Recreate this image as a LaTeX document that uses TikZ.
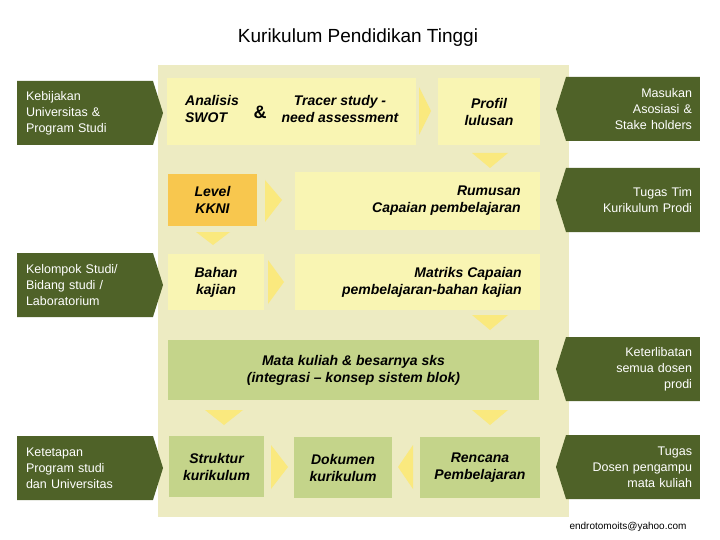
\documentclass[tikz,border=0pt]{standalone}
\usepackage{fontspec}
\setmainfont{Liberation Sans}
\usetikzlibrary{shapes.symbols}
\definecolor{olive}{HTML}{4F6228}
\definecolor{panel}{HTML}{EDEBC2}
\definecolor{pale}{HTML}{F9F5B3}
\definecolor{leaf}{HTML}{C4D48A}
\definecolor{amber}{HTML}{F8C74E}
\definecolor{tri}{HTML}{FAE97E}
\tikzset{
  sign/.style={signal, fill=olive, text=white, font=\fontsize{12.5}{16}\selectfont,
    minimum height=64pt, inner sep=2pt, signal pointer angle=145},
  lsign/.style={sign, signal to=east, minimum width=146pt, text width=118pt, align=left},
  rsign/.style={sign, signal to=west, minimum width=144pt, text width=118pt, align=right},
  box/.style={fill=pale, font=\bfseries\itshape\fontsize{14}{17}\selectfont, align=center, inner sep=0pt}
}
\newcommand{\boxat}[6]{\node[box, fill=#6, minimum width=#3-#1, minimum height=#4-#2] (#5) at ({(#1+#3)/2},{(#2+#4)/2})}
\begin{document}
\begin{tikzpicture}[x=1pt, y=-1pt]
\useasboundingbox (0,0) rectangle (720,540);
\node[font=\fontsize{19}{22}\selectfont] (title) at (358,38) {Kurikulum Pendidikan Tinggi};
\fill[panel] (158,65) rectangle (569,517);
% left signs
\node[lsign] (kebijakan) at (85,113) {Kebijakan\\Universitas \&\\Program Studi\\[8pt]};
\node[lsign] (kelompok) at (85,285) {Kelompok Studi/\\Bidang studi /\\Laboratorium\\[8pt]};
\node[lsign] (ketetapan) at (85,468) {Ketetapan\\Program studi\\dan Universitas};
% right signs
\node[rsign] (masukan) at (633,109) {Masukan\\Asosiasi \&\\Stake holders};
\node[rsign] (tugastim) at (633,200) {Tugas Tim\\Kurikulum Prodi\\[10pt]};
\node[rsign] (keterlibatan) at (633,369) {Keterlibatan\\semua dosen\\prodi};
\node[rsign] (tugasdosen) at (633,467) {Tugas\\Dosen pengampu\\mata kuliah};
% boxes
\boxat{167}{78}{416}{145}{analisis}{pale}{};
\node[box, fill=none, align=left] (swot) at (212,109) {Analisis\\SWOT};
\node[box, fill=none, font=\bfseries\fontsize{18}{20}\selectfont] (amp) at (260,112) {\&};
\node[box, fill=none] (tracer) at (340,109) {Tracer study -\\need assessment};
\boxat{438}{78}{540}{145}{profil}{pale}{Profil\\lulusan};
\boxat{168}{174}{257}{226}{kkni}{amber}{Level\\KKNI};
\boxat{295}{172}{540}{230}{rumusan}{pale}{};
\node[box, fill=none, align=right, anchor=east] (rumusantext) at (521,201) {Rumusan\\Capaian pembelajaran};
\boxat{168}{254}{264}{310}{bahan}{pale}{Bahan\\kajian};
\boxat{295}{254}{540}{310}{matriks}{pale}{};
\node[box, fill=none, align=right, anchor=east] (matrikstext) at (522,282) {Matriks Capaian\\pembelajaran-bahan kajian};
\boxat{168}{340}{539}{400}{matakuliah}{leaf}{Mata kuliah \& besarnya sks\\(integrasi -- konsep sistem blok)};
\boxat{169}{436}{264}{497}{struktur}{leaf}{Struktur\\kurikulum};
\boxat{294}{437}{392}{498}{dokumen}{leaf}{Dokumen\\kurikulum};
\boxat{420}{437}{540}{498}{rencana}{leaf}{Rencana\\Pembelajaran};
% arrows
\fill[tri] (419,87) -- (431,111) -- (419,135) -- cycle;
\fill[tri] (472,153) -- (508,153) -- (490,168) -- cycle;
\fill[tri] (265,180) -- (282,200) -- (265,222) -- cycle;
\fill[tri] (196,232) -- (230,232) -- (213,245) -- cycle;
\fill[tri] (268,260) -- (284,282) -- (268,304) -- cycle;
\fill[tri] (472,315) -- (508,315) -- (490,330) -- cycle;
\fill[tri] (205,410) -- (243,410) -- (224,425) -- cycle;
\fill[tri] (472,410) -- (508,410) -- (490,425) -- cycle;
\fill[tri] (271,445) -- (288,467) -- (271,489) -- cycle;
\fill[tri] (413,445) -- (398,467) -- (413,489) -- cycle;
\node[font=\fontsize{10}{12}\selectfont] (email) at (628,527) {endrotomoits@yahoo.com};
\end{tikzpicture}
\end{document}
